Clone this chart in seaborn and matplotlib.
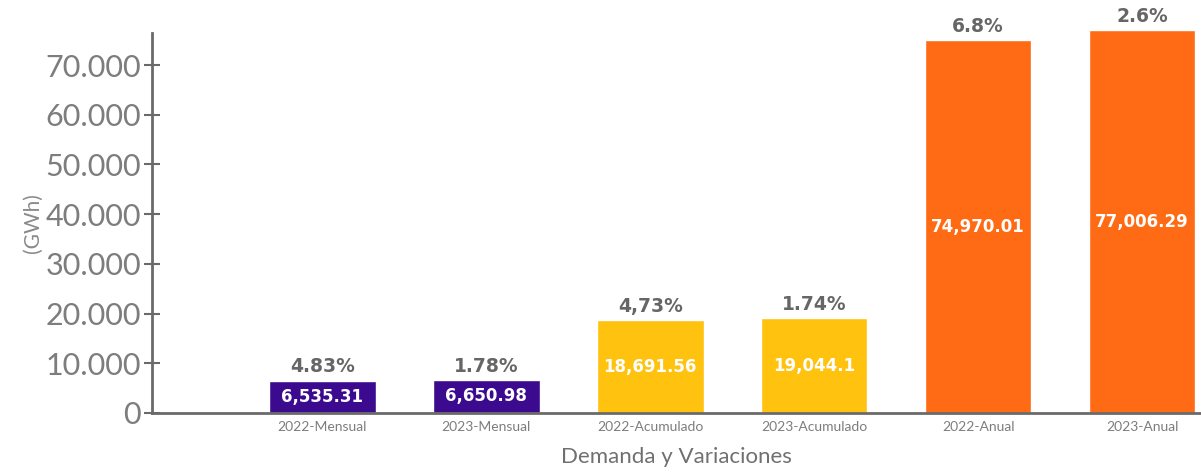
import matplotlib
matplotlib.use("Agg")
import matplotlib.pyplot as plt
import seaborn as sns
import pandas as pd

# Chart data
categories = ["2022-Mensual", "2023-Mensual", "2022-Acumulado",
              "2023-Acumulado", "2022-Anual", "2023-Anual"]
values = [6535.31, 6650.98, 18691.56, 19044.1, 74970.01, 77006.29]
value_labels = ["6,535.31", "6,650.98", "18,691.56", "19,044.1", "74,970.01", "77,006.29"]
pct_labels = ["4.83%", "1.78%", "4,73%", "1.74%", "6.8%", "2.6%"]
bar_colors = ["#3c0a8f", "#3c0a8f", "#fec20f", "#fec20f", "#ff6a14", "#ff6a14"]
ytick_values = [0, 10000, 20000, 30000, 40000, 50000, 60000, 70000]
ytick_labels = ["0", "10.000", "20.000", "30.000", "40.000", "50.000", "60.000", "70.000"]

df = pd.DataFrame({"categoria": categories, "gwh": values})

sns.set_theme(style="white")
plt.rcParams["font.family"] = ["Lato", "DejaVu Sans"]

fig = plt.figure(figsize=(12.01, 4.76), dpi=100)
ax = fig.add_axes([152 / 1201, 63 / 476, 1 - 152 / 1201, 380 / 476])

sns.barplot(data=df, x="categoria", y="gwh", hue="categoria", palette=bar_colors,
            legend=False, width=0.65, saturation=1, ax=ax)

for patch in ax.patches:
    patch.set_clip_on(False)

# labels on / above the bars
for i, (val, vlab, plab) in enumerate(zip(values, value_labels, pct_labels)):
    ax.text(i, val / 2, vlab, ha="center", va="center", color="white",
            fontsize=12, fontweight="bold", family="DejaVu Sans", clip_on=False)
    ax.annotate(plab, (i, val), xytext=(0, 3), textcoords="offset points",
                ha="center", va="bottom", color="#666666", fontsize=13.5,
                fontweight="bold", family="DejaVu Sans", annotation_clip=False)

ax.set_xlim(-1.04, 5.36)
ax.set_ylim(0, 76440)
ax.set_yticks(ytick_values)
ax.set_yticklabels(ytick_labels, fontsize=22, color="#7d7d7d")
ax.tick_params(axis="y", direction="inout", length=12, width=1.5, color="#6a6a6a", pad=2, left=True)
ax.tick_params(axis="x", length=0, labelsize=10, labelcolor="#7d7d7d", pad=6)

ax.set_xlabel("Demanda y Variaciones", fontsize=16, color="#707070", labelpad=10)
ax.set_ylabel("(GWh)", fontsize=15, color="#8a8a8a", labelpad=2)

sns.despine(ax=ax)
for side in ["left", "bottom"]:
    ax.spines[side].set_color("#6a6a6a")
    ax.spines[side].set_linewidth(2)

fig.savefig("out.png", dpi=100)
